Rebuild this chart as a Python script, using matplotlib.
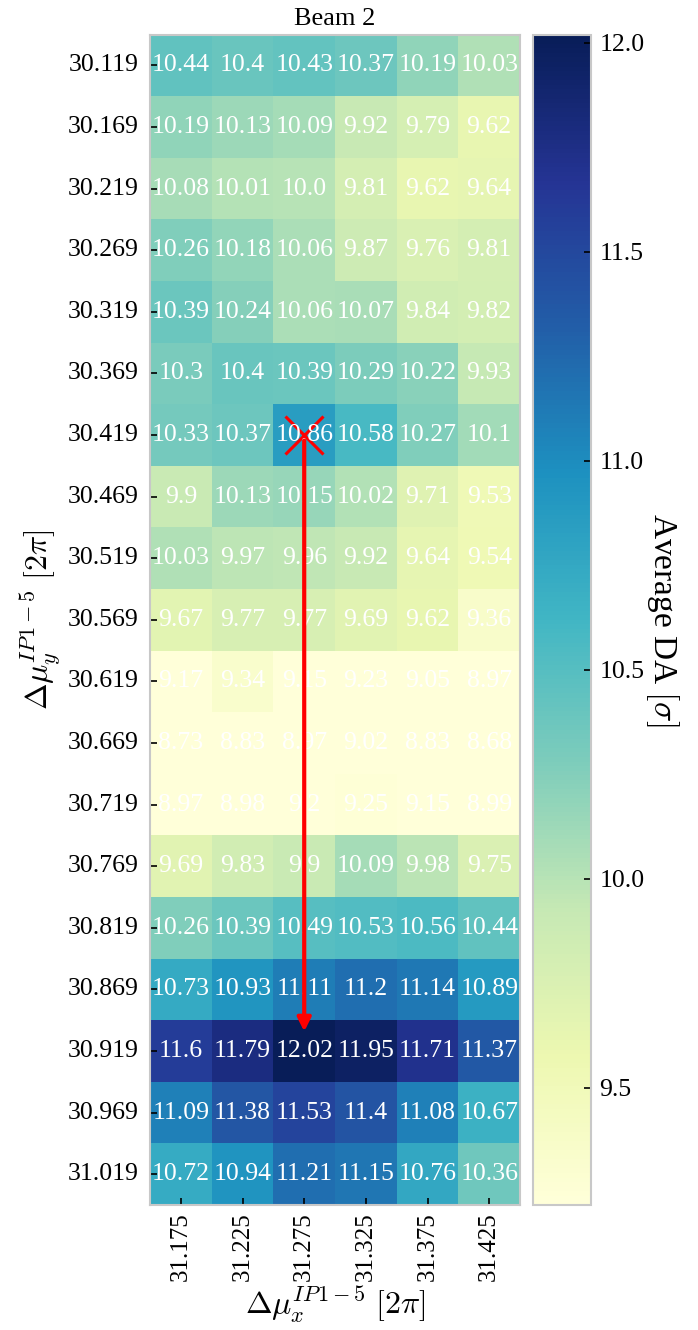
import numpy as np
import matplotlib
matplotlib.use("Agg")
import matplotlib.pyplot as plt
import seaborn as sns

# ==========================================
# Scan data: average DA for beam 2
# ==========================================

qx_values = ["31.175", "31.225", "31.275", "31.325", "31.375", "31.425"]
qy_values = ["30.119", "30.169", "30.219", "30.269", "30.319", "30.369", "30.419",
             "30.469", "30.519", "30.569", "30.619", "30.669", "30.719", "30.769",
             "30.819", "30.869", "30.919", "30.969", "31.019"]

avg_da = [
    [10.44, 10.4, 10.43, 10.37, 10.19, 10.03],
    [10.19, 10.13, 10.09, 9.92, 9.79, 9.62],
    [10.08, 10.01, 10.0, 9.81, 9.62, 9.64],
    [10.26, 10.18, 10.06, 9.87, 9.76, 9.81],
    [10.39, 10.24, 10.06, 10.07, 9.84, 9.82],
    [10.3, 10.4, 10.39, 10.29, 10.22, 9.93],
    [10.33, 10.37, 10.86, 10.58, 10.27, 10.1],
    [9.9, 10.13, 10.15, 10.02, 9.71, 9.53],
    [10.03, 9.97, 9.96, 9.92, 9.64, 9.54],
    [9.67, 9.77, 9.77, 9.69, 9.62, 9.36],
    [9.17, 9.34, 9.15, 9.23, 9.05, 8.97],
    [8.73, 8.83, 8.97, 9.02, 8.83, 8.68],
    [8.97, 8.98, 9.2, 9.25, 9.15, 8.99],
    [9.69, 9.83, 9.9, 10.09, 9.98, 9.75],
    [10.26, 10.39, 10.49, 10.53, 10.56, 10.44],
    [10.73, 10.93, 11.11, 11.2, 11.14, 10.89],
    [11.6, 11.79, 12.02, 11.95, 11.71, 11.37],
    [11.09, 11.38, 11.53, 11.4, 11.08, 10.67],
    [10.72, 10.94, 11.21, 11.15, 10.76, 10.36],
]

# nominal working point and optimum (qx, qy)
start_point = ("31.275", "30.419")
best_point = ("31.275", "30.919")

color_min = 9.22

# ==========================================
# Plot
# ==========================================

plt.rcParams['font.family'] = 'serif'
plt.rcParams['font.serif'] = ['Liberation Serif', 'DejaVu Serif']
plt.rcParams['mathtext.fontset'] = 'cm'

data = np.array(avg_da)
labels = np.array([[str(v) for v in row] for row in avg_da])

fig = plt.figure(figsize=(6.98, 13.30), dpi=100)
ax = fig.add_axes([0.215, 0.094, 0.530, 0.880])
cax = fig.add_axes([0.764, 0.094, 0.083, 0.880])

sns.heatmap(data, ax=ax, cbar_ax=cax, cmap='YlGnBu',
            vmin=color_min, vmax=data.max(),
            annot=labels, fmt='', annot_kws={'color': 'white', 'fontsize': 18.5},
            xticklabels=qx_values, yticklabels=qy_values,
            cbar_kws={'ticks': [9.5, 10.0, 10.5, 11.0, 11.5, 12.0]})

for side in ax.spines.values():
    side.set_visible(True)
    side.set_color('#c8c8c8')
    side.set_linewidth(1.5)

ax.tick_params(axis='both', direction='in', length=5, width=1.2, labelsize=18.5, pad=8)
ax.tick_params(axis='x', labelrotation=90, labelsize=18, pad=5)
ax.tick_params(axis='y', labelrotation=0)
ax.set_xlabel(r'$\Delta\mu_x^{IP1-5}\ [2\pi]$', fontsize=23, va='top')
ax.xaxis.set_label_coords(0.5, -0.068)
ax.set_ylabel(r'$\Delta\mu_y^{IP1-5}\ [2\pi]$', fontsize=23, labelpad=4)
ax.set_title('Beam 2', fontsize=19, pad=7)

# arrow from working point to best DA
ix0 = qx_values.index(start_point[0]) + 0.5
iy0 = qy_values.index(start_point[1]) + 0.5
ix1 = qx_values.index(best_point[0]) + 0.5
iy1 = qy_values.index(best_point[1]) + 0.5
ax.plot(ix0, iy0, marker='x', color='red', markersize=28, mew=2.2)
ax.annotate('', xy=(ix1, iy1), xytext=(ix0, iy0),
            arrowprops=dict(arrowstyle='-|>', color='red', lw=3,
                            mutation_scale=20, shrinkA=4, shrinkB=14))

cbar = ax.collections[0].colorbar
cbar.outline.set_edgecolor('#c8c8c8')
cbar.outline.set_linewidth(1.5)
cbar.ax.tick_params(direction='in', length=5, width=1.2, labelsize=18.5, pad=6)
cbar.set_label(r'Average DA $[\sigma]$', fontsize=24, rotation=270, labelpad=26)

fig.savefig('out.png', dpi=100)
